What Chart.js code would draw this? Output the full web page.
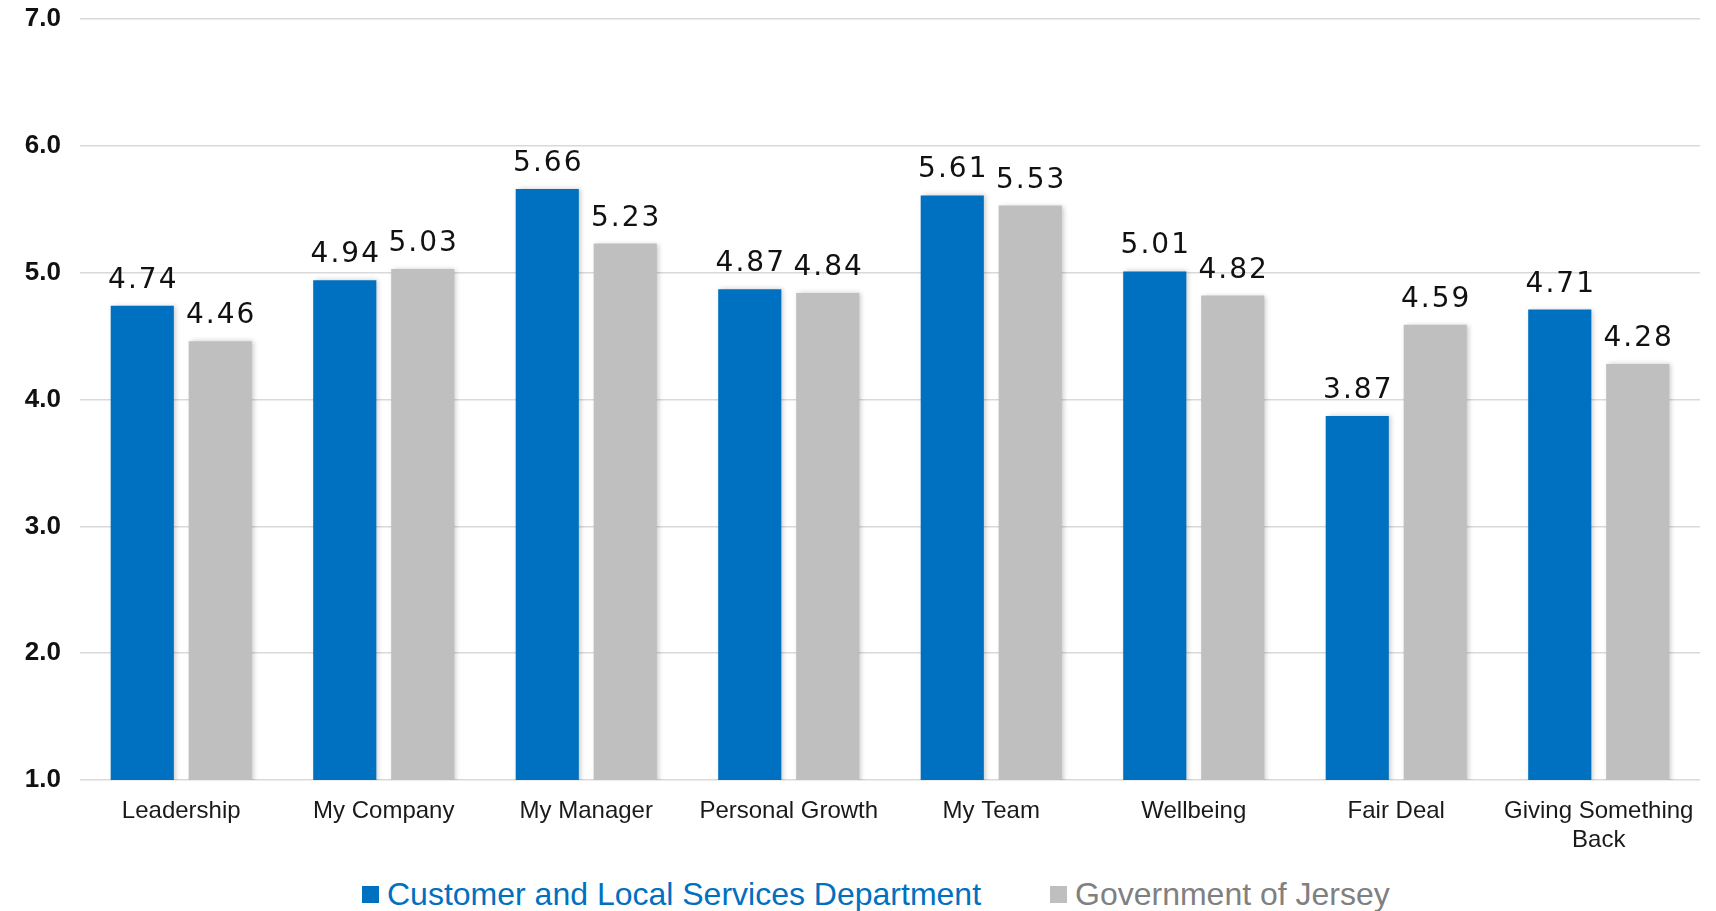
<!DOCTYPE html>
<html>
<head>
<meta charset="utf-8">
<script src="https://cdn.jsdelivr.net/npm/chart.js@4.4.1/dist/chart.umd.min.js"></script>
<style>
  html, body { margin: 0; padding: 0; background: #fff; }
  #wrap { width: 1716px; height: 870px; position: relative; }
  #legend {
    width: 1716px; height: 41px;
    font-family: "Liberation Sans", Arial, sans-serif; font-size: 32px;
  }
  .item { display: flex; align-items: center; position: absolute; top: 876px; }
  .box { width: 17px; height: 17px; margin-right: 8px; }
</style>
</head>
<body>
<div id="wrap"><canvas id="chart"></canvas></div>
<div id="legend">
  <div class="item" style="left:362px;color:#0070C0"><span class="box" style="background:#0070C0"></span>Customer and Local Services Department</div>
  <div class="item" style="left:1050px;color:#808080"><span class="box" style="background:#BFBFBF"></span>Government of Jersey</div>
</div>
<script>
const categories = ["Leadership", "My Company", "My Manager", "Personal Growth", "My Team", "Wellbeing", "Fair Deal", ["Giving Something", "Back"]];
const departmentScores = [4.74, 4.94, 5.66, 4.87, 5.61, 5.01, 3.87, 4.71];
const jerseyScores = [4.46, 5.03, 5.23, 4.84, 5.53, 4.82, 4.59, 4.28];
const seriesNames = ["Customer and Local Services Department", "Government of Jersey"];

// shadow behind the bars
const barShadow = {
  id: "barShadow",
  beforeDatasetsDraw(chart) {
    const ctx = chart.ctx;
    ctx.save();
    ctx.shadowColor = "rgba(0,0,0,0.22)";
    ctx.shadowBlur = 5;
    ctx.shadowOffsetX = 2;
    ctx.shadowOffsetY = 0;
  },
  afterDatasetsDraw(chart) {
    chart.ctx.restore();
  }
};

// value labels above each bar
const valueLabels = {
  id: "valueLabels",
  afterDatasetsDraw(chart) {
    const ctx = chart.ctx;
    ctx.save();
    ctx.font = "28px 'DejaVu Sans', sans-serif";
    ctx.letterSpacing = "2px";
    ctx.fillStyle = "#111";
    ctx.textAlign = "center";
    ctx.textBaseline = "alphabetic";
    chart.data.datasets.forEach((ds, i) => {
      chart.getDatasetMeta(i).data.forEach((bar, j) => {
        ctx.fillText(ds.data[j].toFixed(2), bar.x + 1, bar.y - 18);
      });
    });
    ctx.restore();
  }
};

new Chart(document.getElementById("chart"), {
  type: "bar",
  data: {
    labels: categories,
    datasets: [
      { label: seriesNames[0], data: departmentScores, backgroundColor: "#0070C0" },
      { label: seriesNames[1], data: jerseyScores, backgroundColor: "#BFBFBF" }
    ]
  },
  options: {
    responsive: true,
    maintainAspectRatio: false,
    animation: false,
    categoryPercentage: 0.77,
    barPercentage: 0.81,
    layout: { padding: { top: 0, right: 16, left: 0, bottom: 8 } },
    plugins: {
      legend: { display: false },
      tooltip: { enabled: false }
    },
    scales: {
      x: {
        afterFit: s => { s.height = 82; },
        grid: { display: false },
        border: { display: false },
        ticks: {
          color: "#1a1a1a",
          padding: 9,
          maxRotation: 0,
          font: { family: "'Liberation Sans', Arial, sans-serif", size: 24, lineHeight: 1.2 }
        }
      },
      y: {
        min: 1,
        max: 7,
        afterFit: s => { s.width = 80; },
        border: { display: false },
        grid: { color: "#d9d9d9", lineWidth: 1.5, drawTicks: true, tickLength: 15.5, tickColor: "rgba(0,0,0,0)" },
        ticks: {
          stepSize: 1,
          padding: 3.5,
          color: "#111",
          font: { family: "'Liberation Sans', Arial, sans-serif", size: 26, weight: "bold" },
          callback: v => v.toFixed(1)
        }
      }
    }
  },
  plugins: [barShadow, valueLabels]
});
</script>
</body>
</html>
